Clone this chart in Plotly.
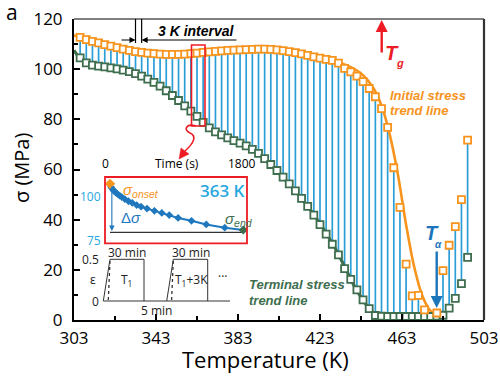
import plotly.graph_objects as go

# ---------------- data ----------------
temps = [306, 309, 312, 315, 318, 321, 324, 327, 330, 333, 336, 339, 342, 345, 348, 351,
         354, 357, 360, 363, 366, 369, 372, 375, 378, 381, 384, 387, 390, 393, 396, 399,
         402, 405, 408, 411, 414, 417, 420, 423, 426, 429, 432, 435, 438, 441, 444, 447,
         450, 453, 456, 459, 462, 465, 468, 471, 474, 477, 480, 483, 486, 489, 492, 495]
initial_stress = [112.7, 111.8, 111.1, 110.5, 109.8, 109.2, 108.6, 108.0, 107.5, 107.0, 106.7, 106.4,
                  106.2, 106.0, 105.9, 105.9, 105.9, 106.0, 106.2, 106.4, 106.7, 106.9, 107.1, 107.3,
                  107.5, 107.6, 107.7, 107.8, 107.9, 108.0, 108.0, 107.9, 107.7, 107.4, 107.0, 106.6,
                  106.1, 105.5, 104.9, 104.4, 103.9, 103.5, 102.4, 100.3, 98.9, 97.2, 95.0, 92.3,
                  89.0, 84.3, 76.8, 60.7, 44.9, 22.3, 9.6, 9.8, 4.0, None, 2.8, 19.7,
                  29.8, 37.2, 48.0, 71.7]
terminal_stress = [104.5, 102.5, 101.6, 101.2, 100.9, 100.5, 100.1, 99.6, 99.0, 98.2, 97.2, 96.0,
                   94.7, 93.2, 91.4, 89.5, 87.5, 85.4, 83.3, 81.2, 78.8, 76.6, 75.0, 73.8,
                   72.6, 71.5, 70.5, 69.4, 68.0, 66.4, 64.3, 62.0, 59.6, 57.0, 54.3, 51.5,
                   48.5, 45.3, 41.8, 38.0, 34.2, 30.2, 26.0, 20.5, 16.2, 12.0, 8.0, 4.5,
                   1.8, 1.5, 1.4, 1.4, 1.4, 1.4, 1.4, 1.4, 1.4, 1.4, 1.5, 1.9,
                   4.7, 8.6, 14.5, 25.0]

orange_trend_T = [303, 310, 320, 330, 340, 350, 360, 370, 380, 390, 400, 410, 420, 430, 438,
                  444, 449, 453, 457, 461, 465, 469, 473, 477, 481]
orange_trend_s = [113.5, 111.7, 109.3, 107.4, 106.3, 105.9, 106.1, 106.8, 107.5, 107.9, 108.0,
                  107.3, 105.6, 103.4, 100.8, 97.6, 92.5, 85.5, 74.0, 58.0, 38.0, 21.0, 9.5, 3.5, 1.0]
green_trend_T = [303, 306, 310, 315, 320, 330, 340, 350, 360, 370, 380, 390, 400, 410, 420,
                 430, 440, 446, 450, 455, 465, 475, 482]
green_trend_s = [107.5, 104.3, 102.2, 101.3, 100.7, 99.1, 95.7, 90.2, 83.4, 76.2, 71.9, 68.1,
                 61.0, 52.3, 42.0, 29.2, 13.2, 5.6, 2.2, 1.0, 0.8, 0.9, 1.2]

x_ticks = [303, 343, 383, 423, 463, 503]
y_ticks = [0, 20, 40, 60, 80, 100, 120]

# inset (363 K relaxation)
inset_time = [0, 15, 30, 50, 75, 100, 130, 160, 200, 250, 300, 360, 420, 500, 600, 700,
              800, 920, 1100, 1300, 1550, 1800]
inset_sigma = [106.8, 105.0, 104.0, 103.0, 102.0, 101.2, 100.2, 99.4, 98.3, 97.1, 96.2, 95.0,
               94.1, 93.0, 91.8, 90.6, 89.4, 87.8, 86.2, 84.2, 82.4, 81.1]
inset_base = [79.8, 79.8]
inset_base_t = [0, 1800]

# ---------------- style ----------------
ORANGE = '#F7941D'
GREEN = '#3E6E4E'
BLUE = '#2B9ED8'
RED = '#ED1C24'
DBLUE = '#1B75BB'
LBLUE = '#29A8E0'
W, H = 500, 382
L, R, T, B = 74, 16, 19, 62
PW, PH = W - L - R, H - T - B
XR = [303, 503]
YR = [0, 120]


def pxp(x):
    return (x - L) / PW


def pyp(y):
    return (H - B - y) / PH


def dx(x):
    return XR[0] + (x - L) / PW * (XR[1] - XR[0])


def dy(y):
    return YR[0] + (H - B - y) / PH * (YR[1] - YR[0])


fig = go.Figure()

# blue connecting lines
bx, by = [], []
for t, a, b in zip(temps, initial_stress, terminal_stress):
    if a is None or b is None:
        continue
    bx += [t, t, None]
    by += [a, b, None]
fig.add_trace(go.Scatter(x=bx, y=by, mode='lines', line=dict(color=BLUE, width=1.7),
                         hoverinfo='skip', showlegend=False))

fig.add_trace(go.Scatter(x=green_trend_T, y=green_trend_s, mode='lines',
                         line=dict(color=GREEN, width=3.2, shape='spline'), showlegend=False))
fig.add_trace(go.Scatter(x=orange_trend_T, y=orange_trend_s, mode='lines',
                         line=dict(color=ORANGE, width=2.6, shape='spline'), showlegend=False))
fig.add_trace(go.Scatter(x=temps, y=terminal_stress, mode='markers',
                         marker=dict(symbol='square', size=7, color='white',
                                     line=dict(color=GREEN, width=1.8)), showlegend=False))
fig.add_trace(go.Scatter(x=temps, y=initial_stress, mode='markers',
                         marker=dict(symbol='square', size=7, color='white',
                                     line=dict(color=ORANGE, width=1.8)), showlegend=False))

# inset
fig.add_trace(go.Scatter(x=inset_base_t, y=inset_base, mode='lines', xaxis='x2', yaxis='y2',
                         line=dict(color='#333333', width=1.2), showlegend=False))
fig.add_trace(go.Scatter(x=inset_time, y=inset_sigma, mode='lines+markers', xaxis='x2', yaxis='y2',
                         line=dict(color='#1F78BE', width=2),
                         marker=dict(symbol='diamond', size=6, color='#1F78BE'),
                         showlegend=False))
fig.add_trace(go.Scatter(x=[inset_time[0]], y=[inset_sigma[0]], mode='markers', xaxis='x2', yaxis='y2',
                         marker=dict(symbol='diamond', size=8, color=ORANGE), showlegend=False))
fig.add_trace(go.Scatter(x=[inset_time[-1]], y=[inset_sigma[-1]], mode='markers', xaxis='x2', yaxis='y2',
                         marker=dict(symbol='diamond', size=7, color=GREEN), showlegend=False))

shapes = []
ann = []


def txt(text, x, y, size, color, family='Liberation Sans', xanchor='center', angle=0, weight=None):
    f = dict(family=family, size=size, color=color)
    if weight:
        f['weight'] = weight
    ann.append(dict(x=pxp(x), y=pyp(y), xref='paper', yref='paper', text=text, showarrow=False,
                    xanchor=xanchor, yanchor='middle', textangle=angle, font=f))


def arrow(x0, y0, x1, y1, color, width, xr='x', yr='y'):
    # from (x0,y0) to head at (x1,y1), all in axis data units
    ann.append(dict(x=x1, y=y1, ax=x0, ay=y0, xref=xr, yref=yr, axref=xr, ayref=yr, text='',
                    showarrow=True, arrowhead=2, arrowsize=1, arrowwidth=width, arrowcolor=color,
                    standoff=0, startstandoff=0))


# frame top/right
shapes.append(dict(type='line', xref='paper', yref='paper', x0=0, x1=1, y0=1, y1=1,
                   line=dict(color='black', width=1.2)))
shapes.append(dict(type='line', xref='paper', yref='paper', x0=1, x1=1, y0=0, y1=1,
                   line=dict(color='#333333', width=2.2)))

# 3 K interval
for t in (333, 336):
    shapes.append(dict(type='line', xref='x', yref='y', x0=t, x1=t, y0=120, y1=dy(43),
                       line=dict(color='black', width=1.2)))
arrow(dx(120), dy(40), 333, dy(40), 'black', 1.2)
arrow(dx(238), dy(40), 336, dy(40), 'black', 1.2)
txt('<b><i>3 K interval</i></b>', 196.5, 31, 14, 'black')

# red box at 363 K
shapes.append(dict(type='rect', xref='x', yref='y', x0=dx(191.5), x1=dx(205), y0=dy(126), y1=dy(45),
                   line=dict(color=RED, width=1.6)))


def path(pts):
    s = ''
    for cmd, coords in pts:
        s += cmd + ' ' + ' '.join(f'{pxp(a):.5f},{pyp(b):.5f}' for a, b in coords) + ' '
    return s


shapes.append(dict(type='path', xref='paper', yref='paper',
                   path=path([('M', [(196, 126)]), ('C', [(186, 123), (183, 130), (190, 133)]),
                              ('C', [(197, 136), (194, 143), (185, 151)])]),
                   line=dict(color=RED, width=1.6)))
shapes.append(dict(type='path', xref='paper', yref='paper',
                   path=path([('M', [(179, 159)]), ('L', [(181, 148)]), ('L', [(189, 154)])]) + 'Z',
                   fillcolor=RED, line=dict(color=RED, width=0.5)))

# inset box
shapes.append(dict(type='rect', xref='paper', yref='paper', x0=pxp(105), x1=pxp(247),
                   y0=pyp(243.3), y1=pyp(177), line=dict(color=RED, width=1.8)))

# Tg arrow
arrow(dx(381.7), dy(54), dx(381.7), dy(20), RED, 2.4)
txt('<b><i>T</i></b>', 392, 53, 20, RED)
txt('<b><i>g</i></b>', 399.5, 63, 11, RED)

# T alpha arrow
arrow(dx(436.7), dy(250), dx(436.7), dy(308), DBLUE, 2.4)
txt('<b><i>T</i></b>', 431.5, 233, 20, DBLUE)
txt('<b><i>α</i></b>', 438.5, 244, 10, DBLUE)

# trend line labels
txt('<b><i>Initial stress</i></b>', 388, 95, 13, ORANGE, xanchor='left')
txt('<b><i>trend line</i></b>', 388, 110, 13, ORANGE, xanchor='left')
txt('<b><i>Terminal stress</i></b>', 247, 284, 13, GREEN, xanchor='left')
txt('<b><i>trend line</i></b>', 247, 300, 13, GREEN, xanchor='left')

# panel letter and axis titles
txt('a', 12, 12, 21, 'black', family='Open Sans')
txt('Temperature (K)', 265, 359, 22, 'black', family='Open Sans')
txt('σ (MPa)', 21, 168, 20, 'black', family='Open Sans', angle=-90)

# inset labels
IF = 'Open Sans'
txt('0', 105, 163, 12, 'black', family=IF)
txt('Time (s)', 177, 163, 12, 'black', family=IF)
txt('1800', 242, 163, 12, 'black', family=IF)
txt('100', 103, 196, 12, LBLUE, family=IF, xanchor='right')
txt('75', 103, 241, 12, LBLUE, family=IF, xanchor='right')
txt('<i>σ</i><sub><i>onset</i></sub>', 121, 190, 15, ORANGE, xanchor='left')
txt('363 K', 222, 190, 17, LBLUE, family=IF, weight=600)
txt('Δ<i>σ</i>', 119, 217, 15, '#1F78BE', xanchor='left')
txt('<i>σ</i><sub><i>end</i></sub>', 223, 219, 15, GREEN, xanchor='left')
arrow(25, 106.2, 25, 80.6, '#1F78BE', 1.1, xr='x2', yr='y2')

# strain protocol sketch
SL = dict(color='#333333', width=1)
for seg in [((103.3, 301), (230, 301)),
            ((103.3, 301), (110, 259.3)), ((110, 259.3), (144, 259.3)), ((144, 259.3), (144, 301)),
            ((166.7, 301), (173.3, 259.3)), ((173.3, 259.3), (207.7, 259.3)), ((207.7, 259.3), (207.7, 301))]:
    (a, b), (c, d) = seg
    shapes.append(dict(type='line', xref='paper', yref='paper', x0=pxp(a), y0=pyp(b), x1=pxp(c), y1=pyp(d),
                       line=SL))
for seg in [((110, 261), (108.3, 300)), ((173.3, 261), (171.6, 300))]:
    (a, b), (c, d) = seg
    shapes.append(dict(type='line', xref='paper', yref='paper', x0=pxp(a), y0=pyp(b), x1=pxp(c), y1=pyp(d),
                       line=dict(color='#333333', width=1.3, dash='dot')))
for t_, xx, yy, anc in (('0.5', 101, 259.5, 'right'), ('ε', 93, 279, 'center'), ('0', 101, 301, 'right'),
                        ('30 min', 127, 252.5, 'center'), ('30 min', 191, 252.5, 'center'),
                        ('T<sub>1</sub>', 126, 280, 'center'), ('T<sub>1</sub>+3K', 191, 280, 'center'),
                        ('···', 222, 276, 'center'), ('5 min', 156.5, 310, 'center')):
    txt(t_, xx, yy, 12, '#222222', family=IF, xanchor=anc)

TF = dict(family='Open Sans', size=17, color='black')
fig.update_layout(
    template='none',
    width=W, height=H, margin=dict(l=L, r=R, t=T, b=B, autoexpand=False),
    paper_bgcolor='white', plot_bgcolor='white',
    xaxis=dict(range=XR, tickvals=x_ticks, ticks='inside', ticklen=6, tickwidth=1.5, tickcolor='black',
               minor=dict(tickvals=[323, 363, 403, 443, 483], ticks='inside', ticklen=4, tickwidth=1.5,
                          tickcolor='black'),
               showline=True, linewidth=2, linecolor='black', showgrid=False, zeroline=False,
               tickfont=TF, ticklabelstandoff=2, automargin=False),
    yaxis=dict(range=YR, tickvals=y_ticks, ticks='inside', ticklen=6, tickwidth=1.5, tickcolor='black',
               minor=dict(tickvals=[10, 30, 50, 70, 90, 110], ticks='inside', ticklen=4, tickwidth=1.5,
                          tickcolor='black'),
               showline=True, linewidth=2, linecolor='black', showgrid=False, zeroline=False,
               tickfont=TF, ticklabelstandoff=6, automargin=False),
    xaxis2=dict(domain=[pxp(105), pxp(247)], range=[-67.5, 1850], anchor='y2', visible=False),
    yaxis2=dict(domain=[pyp(243.3), pyp(177)], range=[73.7, 110.6], anchor='x2', visible=False),
    shapes=shapes, annotations=ann, showlegend=False,
)

fig.write_html('out.html', config={'displayModeBar': False},
               post_script="document.body.style.margin='0';document.body.style.overflow='hidden';")
